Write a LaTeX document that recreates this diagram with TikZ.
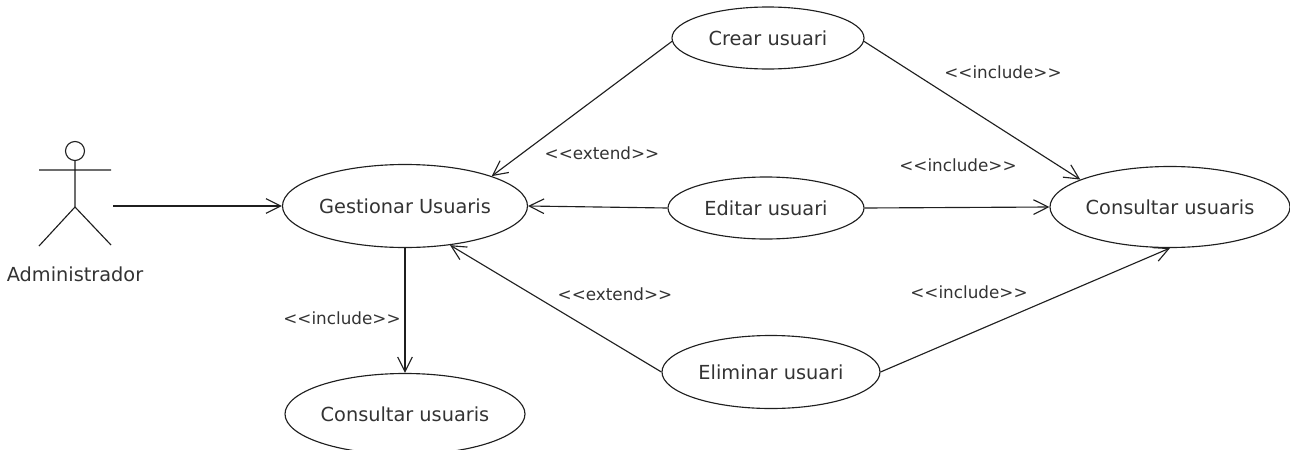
\documentclass[tikz,border=0pt]{standalone}
\usepackage{fontspec}
\setmainfont{DejaVu Sans}
\usetikzlibrary{shapes.geometric,arrows.meta}
\definecolor{ink}{gray}{0.12}
\definecolor{txt}{gray}{0.2}
\tikzset{
 x=0.75pt,y=-0.75pt,
 uc/.style={draw=ink,ellipse,line width=0.85pt,inner sep=0pt,text=txt,font=\fontsize{14.5pt}{16pt}\selectfont},
 lab/.style={text=txt,font=\fontsize{12.6pt}{14pt}\selectfont,inner sep=0pt},
 arr/.style={draw=ink,line width=0.85pt,-{Straight Barb[length=11pt,width=11pt,line width=0.85pt]}},
 stick/.style={draw=ink,line width=0.85pt}
}
\begin{document}
\begin{tikzpicture}
\useasboundingbox (0,0) rectangle (1290,450);
\node[uc,minimum width=245*0.75pt,minimum height=83*0.75pt] (gest) at (405,206) {Gestionar Usuaris};
\node[uc,minimum width=192*0.75pt,minimum height=62*0.75pt] (crear) at (768,38) {Crear usuari};
\node[uc,minimum width=196*0.75pt,minimum height=62*0.75pt] (edit) at (766,208) {Editar usuari};
\node[uc,minimum width=218*0.75pt,minimum height=73*0.75pt] (elim) at (771,372) {Eliminar usuari};
\node[uc,minimum width=240*0.75pt,minimum height=81*0.75pt] (cons) at (1170,207) {Consultar usuaris};
\node[uc,minimum width=240*0.75pt,minimum height=81*0.75pt] (cons2) at (405,414) {Consultar usuaris};
\coordinate (astart) at (113,206);
\draw[stick] (75,151) circle (9.5*0.75pt);
\draw[stick] (75,160) -- (75,207) (39,170) -- (111,170) (39,246) -- (75,207) -- (111,245);
\node[text=txt,font=\fontsize{14.5pt}{16pt}\selectfont,inner sep=0pt] (admin) at (75,274) {Administrador};
\draw[arr] (astart) -- (gest.west);
\draw[arr] (crear.182) -- (gest.19);
\draw[arr] (edit.west) -- (gest.east);
\draw[arr] (elim.west) -- (gest.-41);
\draw[arr] (crear.-2) -- (cons.163);
\draw[arr] (edit.east) -- (cons.west);
\draw[arr] (elim.east) -- (cons.south);
\draw[arr] (gest.south) -- (cons2.north);
\node[lab] (l1) at (602,153) {<{}<extend>{}>};
\node[lab] (l2) at (615,294) {<{}<extend>{}>};
\node[lab] (l3) at (1003,72) {<{}<include>{}>};
\node[lab] (l4) at (958,165) {<{}<include>{}>};
\node[lab] (l5) at (969,292) {<{}<include>{}>};
\node[lab] (l6) at (342,318) {<{}<include>{}>};
\end{tikzpicture}
\end{document}
